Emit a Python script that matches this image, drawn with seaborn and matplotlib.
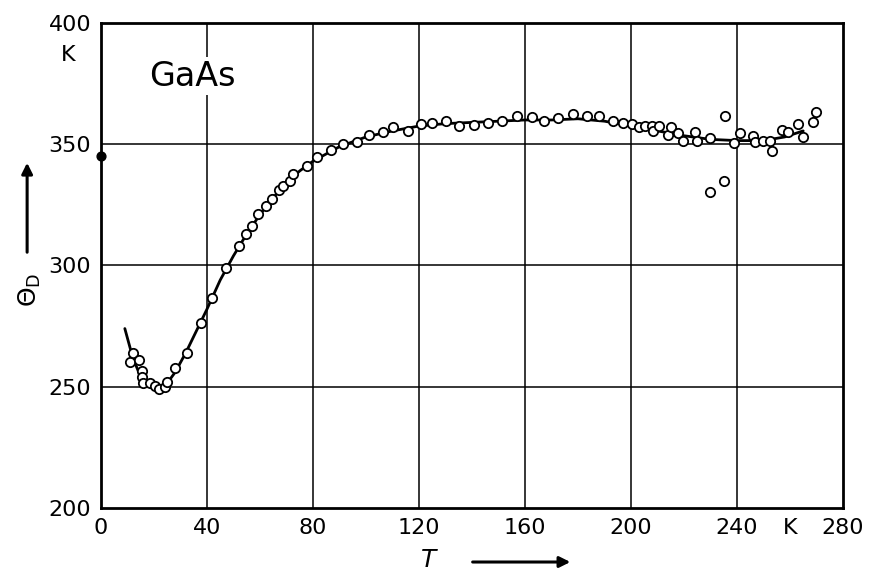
import numpy as np
import pandas as pd
import matplotlib
matplotlib.use("Agg")
import matplotlib.pyplot as plt
import seaborn as sns

# ── Data ──────────────────────────────────────────────────
# measured points (T in K, Debye temperature in K)
T_pts = [10.9, 12.1, 14.3, 15.5, 15.5, 15.8, 18.5, 20.4, 21.9, 24.2, 24.9, 27.9,
         32.5, 37.7, 41.9, 47.2, 52.1, 54.7, 57.0, 59.2, 62.3, 64.5, 67.2, 68.7,
         71.3, 72.5, 77.7, 81.5, 86.8, 91.3, 96.6, 101.1, 106.4, 110.2, 115.8,
         120.8, 124.9, 130.2, 135.1, 140.8, 146.0, 151.3, 157.0, 162.6, 167.2,
         172.5, 178.1, 183.4, 187.9, 193.2, 197.0, 200.4, 203.0, 205.3, 207.9,
         208.3, 210.6, 214.0, 215.1, 217.7, 219.6, 224.2, 224.9, 229.8, 229.8,
         235.5, 235.1, 238.9, 241.1, 246.0, 246.8, 249.8, 252.5, 253.2, 257.0,
         259.2, 263.0, 264.9, 268.7, 269.8]
theta_pts = [260.3, 264.0, 261.2, 256.6, 254.1, 251.7, 251.7, 250.4, 249.2, 250.0,
             252.1, 257.9, 264.0, 276.4, 286.8, 298.8, 307.9, 312.8, 316.1, 321.1,
             324.4, 327.3, 331.0, 332.6, 334.7, 337.6, 340.9, 344.6, 347.5, 350.0,
             350.8, 353.7, 355.0, 357.0, 355.4, 358.3, 358.7, 359.5, 357.4, 357.9,
             358.7, 359.5, 361.6, 361.2, 359.5, 360.7, 362.4, 361.6, 361.6, 359.5,
             358.7, 358.3, 357.0, 357.4, 357.4, 355.4, 357.4, 353.7, 357.0, 354.5,
             351.2, 355.0, 351.2, 352.5, 330.2, 361.6, 334.7, 350.4, 354.5, 353.3,
             350.8, 351.2, 351.2, 347.1, 355.8, 355.0, 358.3, 352.9, 359.1, 363.2]

# smooth curve drawn through the data
T_curve = [9, 12, 15, 18, 21, 24, 28, 32, 36, 40, 45, 50, 55, 60, 65, 70, 75, 80,
           90, 100, 110, 120, 130, 140, 150, 160, 170, 180, 190, 200, 210, 220,
           230, 240, 250, 258, 265]
theta_curve = [274, 262, 254, 250.5, 249, 250, 256, 264, 273, 282, 294, 304, 313,
               321, 328, 334, 339, 343, 349, 353, 355.5, 357.5, 358.5, 359, 359.5,
               360, 360, 360.5, 359.5, 357.5, 355.5, 353.5, 352, 351.5, 351.5,
               353, 355.5]

# value at T = 0 (filled dot on the axis)
T0 = [0]
theta0 = [345]

x_ticks = [0, 40, 80, 120, 160, 200, 240, 260, 280]
x_labels = ["0", "40", "80", "120", "160", "200", "240", "K", "280"]
y_ticks = [200, 250, 300, 350, 400]

pts = pd.DataFrame({"T": T_pts, "theta": theta_pts})
curve = pd.DataFrame({"T": T_curve, "theta": theta_curve})

# ── Plot ──────────────────────────────────────────────────
sns.set_style("white")
plt.rcParams["font.family"] = ["DejaVu Sans"]
for key in ["text.color", "axes.labelcolor", "xtick.color", "ytick.color"]:
    plt.rcParams[key] = "black"

fig = plt.figure(figsize=(8.75, 5.83), dpi=100)
ax = fig.add_axes([0.1154, 0.1286, 0.848, 0.832])

# grid lines
for gx in [40, 80, 120, 160, 200, 240]:
    ax.axvline(gx, color="black", lw=1.1, zorder=1)
for gy in [250, 300, 350]:
    ax.axhline(gy, color="black", lw=1.1, zorder=1)

sns.lineplot(data=curve, x="T", y="theta", color="black", lw=2.0, ax=ax,
             zorder=3, sort=False)
sns.scatterplot(data=pts, x="T", y="theta", ax=ax, marker="o", s=45,
                facecolor="white", edgecolor="black", linewidth=1.3, zorder=4)
ax.scatter(T0, theta0, s=40, color="black", zorder=5, clip_on=False)

ax.set_xlim(0, 280)
ax.set_ylim(200, 400)
ax.set_xticks(x_ticks)
ax.set_xticklabels(x_labels)
ax.set_yticks(y_ticks)
ax.tick_params(length=0, labelsize=16, pad=7)
ax.set_xlabel("")
ax.set_ylabel("")
for sp in ax.spines.values():
    sp.set_visible(True)
    sp.set_color("black")
    sp.set_linewidth(2.0)

# substance label (white box breaks the 40 K grid line)
ax.text(18, 378, "GaAs", fontsize=24, va="center", ha="left", zorder=6,
        bbox=dict(facecolor="white", edgecolor="none", pad=2))

# unit "K" under the 400 label
fig.text(0.078, 1 - 55 / 583, "K", fontsize=16, ha="center", va="center")

# axis labels with arrows
fig.text(0.034, 1 - 290 / 583, r"$\Theta_\mathrm{D}$", fontsize=18, rotation=90,
         ha="center", va="center")
fig.add_artist(matplotlib.patches.FancyArrowPatch(
    (0.031, 1 - 255 / 583), (0.031, 1 - 160 / 583), transform=fig.transFigure,
    arrowstyle="-|>", mutation_scale=16, lw=2.2, color="black"))
fig.text(0.491, 0.040, "$T$", fontsize=18, ha="center", va="center")
fig.add_artist(matplotlib.patches.FancyArrowPatch(
    (0.537, 0.036), (0.655, 0.036), transform=fig.transFigure,
    arrowstyle="-|>", mutation_scale=16, lw=2.2, color="black"))

fig.savefig("out.png", dpi=100)
